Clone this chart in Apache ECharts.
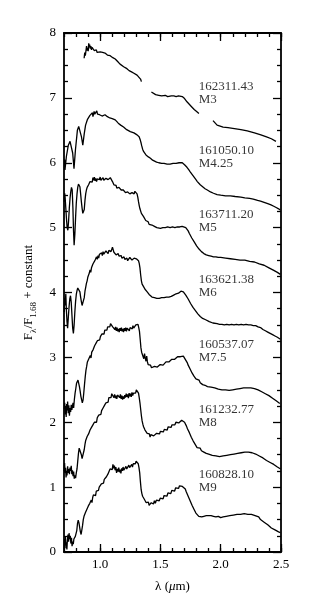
<!DOCTYPE html>
<html>
<head>
<meta charset="utf-8">
<script src="https://cdn.jsdelivr.net/npm/echarts@6/dist/echarts.min.js"></script>
<style>html,body{margin:0;padding:0;background:#fff}#c{width:319px;height:609px}</style>
</head>
<body>
<div id="c"></div>
<script>
// ---- data ----
const starIds = ['162311.43','161050.10','163711.20','163621.38','160537.07','161232.77','160828.10'];
const spTypes = ['M3','M4.25','M5','M6','M7.5','M8','M9'];
const labelX = 1.817;
const labelY = [7.08, 6.09, 5.10, 4.10, 3.10, 2.10, 1.10];
const xMajorTicks = [1.0, 1.5, 2.0, 2.5];

const m3a = [[0.867,7.61],[0.872,7.70],[0.877,7.65],[0.883,7.68],[0.887,7.80],[0.892,7.73],[0.897,7.77],[0.901,7.72],[0.905,7.84],[0.909,7.78],[0.913,7.82],[0.918,7.76],[0.923,7.80],[0.928,7.74],[0.933,7.78],[0.938,7.75],[0.944,7.77],[0.95,7.73],[0.955,7.74],[0.962,7.71],[0.968,7.74],[0.975,7.70],[0.982,7.72],[0.99,7.70],[1.0,7.71],[1.01,7.69],[1.02,7.70],[1.03,7.68],[1.04,7.69],[1.05,7.67],[1.06,7.66],[1.07,7.67],[1.083,7.65],[1.095,7.64],[1.105,7.62],[1.115,7.63],[1.125,7.60],[1.135,7.58],[1.145,7.56],[1.153,7.53],[1.165,7.52],[1.18,7.50],[1.195,7.48],[1.21,7.46],[1.222,7.45],[1.24,7.42],[1.26,7.40],[1.28,7.38],[1.295,7.36],[1.306,7.35],[1.32,7.33],[1.335,7.29],[1.342,7.25]];
const m3b = [[1.425,7.09],[1.44,7.06],[1.46,7.05],[1.486,7.04],[1.51,7.03],[1.54,7.04],[1.56,7.02],[1.59,7.03],[1.611,7.03],[1.63,7.02],[1.65,7.03],[1.681,7.02],[1.70,6.99],[1.72,6.94],[1.736,6.91],[1.76,6.86],[1.78,6.82],[1.80,6.79],[1.819,6.76]];
const m3c = [[1.936,6.65],[1.95,6.62],[1.97,6.58],[1.986,6.56],[2.02,6.55],[2.06,6.54],[2.10,6.53],[2.167,6.51],[2.22,6.49],[2.28,6.46],[2.333,6.43],[2.38,6.40],[2.42,6.37],[2.458,6.33]];
const m425 = [[0.705,6.05],[0.708,5.89],[0.72,6.10],[0.736,6.27],[0.75,6.33],[0.764,6.35],[0.772,6.15],[0.783,5.91],[0.795,6.20],[0.811,6.50],[0.822,6.56],[0.833,6.55],[0.845,6.40],[0.856,6.27],[0.868,6.45],[0.879,6.58],[0.889,6.61],[0.895,6.67],[0.90,6.64],[0.905,6.70],[0.91,6.66],[0.915,6.73],[0.92,6.71],[0.926,6.76],[0.931,6.73],[0.936,6.77],[0.94,6.71],[0.945,6.74],[0.95,6.79],[0.955,6.75],[0.96,6.73],[0.966,6.77],[0.972,6.80],[0.978,6.75],[0.985,6.73],[0.99,6.77],[0.995,6.74],[1.0,6.76],[1.005,6.71],[1.01,6.74],[1.016,6.72],[1.022,6.75],[1.03,6.73],[1.04,6.74],[1.05,6.72],[1.06,6.71],[1.07,6.70],[1.08,6.69],[1.09,6.68],[1.1,6.68],[1.11,6.67],[1.125,6.66],[1.14,6.63],[1.15,6.61],[1.16,6.60],[1.17,6.58],[1.182,6.57],[1.194,6.55],[1.21,6.52],[1.22,6.51],[1.235,6.49],[1.25,6.48],[1.265,6.47],[1.28,6.46],[1.295,6.44],[1.306,6.43],[1.315,6.42],[1.323,6.40],[1.333,6.35],[1.34,6.30],[1.345,6.26],[1.352,6.21],[1.361,6.17],[1.37,6.14],[1.38,6.12],[1.39,6.10],[1.40,6.09],[1.417,6.07],[1.435,6.04],[1.45,6.02],[1.468,6.01],[1.486,6.00],[1.51,5.99],[1.53,5.99],[1.555,5.98],[1.58,5.98],[1.605,5.99],[1.63,5.99],[1.655,6.00],[1.681,6.00],[1.69,5.99],[1.70,5.97],[1.71,5.95],[1.72,5.93],[1.736,5.89],[1.75,5.85],[1.77,5.80],[1.79,5.75],[1.806,5.71],[1.83,5.66],[1.85,5.63],[1.87,5.60],[1.889,5.58],[1.915,5.55],[1.94,5.53],[1.97,5.51],[2.0,5.50],[2.04,5.49],[2.08,5.49],[2.12,5.48],[2.167,5.47],[2.2,5.46],[2.24,5.45],[2.27,5.44],[2.306,5.42],[2.33,5.41],[2.36,5.39],[2.39,5.37],[2.417,5.35],[2.44,5.33],[2.46,5.31],[2.48,5.29],[2.494,5.27]];
const m5 = [[0.702,5.40],[0.706,5.53],[0.71,5.45],[0.715,5.30],[0.72,5.15],[0.726,5.00],[0.732,4.96],[0.738,5.10],[0.744,5.30],[0.75,5.45],[0.756,5.55],[0.762,5.62],[0.768,5.58],[0.774,5.30],[0.779,4.95],[0.784,4.73],[0.79,4.90],[0.796,5.15],[0.802,5.38],[0.808,5.52],[0.814,5.62],[0.82,5.67],[0.826,5.69],[0.832,5.63],[0.838,5.52],[0.844,5.40],[0.85,5.30],[0.856,5.22],[0.862,5.19],[0.868,5.28],[0.874,5.42],[0.88,5.52],[0.886,5.58],[0.892,5.62],[0.898,5.59],[0.904,5.66],[0.91,5.63],[0.916,5.71],[0.922,5.68],[0.928,5.74],[0.934,5.70],[0.94,5.77],[0.946,5.73],[0.952,5.78],[0.958,5.72],[0.964,5.76],[0.97,5.71],[0.976,5.75],[0.982,5.72],[0.988,5.77],[0.994,5.74],[1.0,5.78],[1.006,5.73],[1.012,5.76],[1.018,5.72],[1.024,5.77],[1.03,5.73],[1.036,5.75],[1.042,5.72],[1.048,5.76],[1.054,5.73],[1.06,5.77],[1.066,5.74],[1.072,5.76],[1.078,5.73],[1.084,5.77],[1.09,5.74],[1.096,5.75],[1.102,5.71],[1.108,5.70],[1.114,5.66],[1.12,5.67],[1.126,5.63],[1.132,5.65],[1.138,5.61],[1.144,5.63],[1.15,5.60],[1.156,5.62],[1.162,5.59],[1.168,5.61],[1.174,5.58],[1.18,5.60],[1.186,5.56],[1.192,5.58],[1.198,5.55],[1.204,5.57],[1.21,5.54],[1.216,5.56],[1.222,5.53],[1.228,5.55],[1.234,5.52],[1.24,5.55],[1.246,5.52],[1.252,5.54],[1.258,5.51],[1.264,5.54],[1.27,5.52],[1.276,5.55],[1.282,5.52],[1.288,5.56],[1.294,5.53],[1.3,5.55],[1.306,5.52],[1.312,5.47],[1.318,5.40],[1.324,5.34],[1.33,5.29],[1.336,5.26],[1.342,5.22],[1.348,5.20],[1.354,5.21],[1.36,5.17],[1.366,5.15],[1.372,5.16],[1.378,5.11],[1.384,5.12],[1.39,5.08],[1.398,5.09],[1.406,5.05],[1.414,5.06],[1.422,5.03],[1.43,5.04],[1.44,5.01],[1.45,5.02],[1.46,5.00],[1.47,5.00],[1.48,4.99],[1.5,4.99],[1.52,5.00],[1.54,5.00],[1.56,5.01],[1.58,5.00],[1.6,5.01],[1.62,5.00],[1.64,5.01],[1.66,5.01],[1.68,5.02],[1.695,5.02],[1.71,5.00],[1.72,4.97],[1.73,4.95],[1.74,4.91],[1.75,4.88],[1.76,4.84],[1.77,4.81],[1.78,4.78],[1.79,4.75],[1.8,4.72],[1.81,4.69],[1.82,4.67],[1.83,4.64],[1.84,4.63],[1.85,4.61],[1.86,4.60],[1.88,4.58],[1.9,4.57],[1.92,4.56],[1.94,4.55],[1.96,4.55],[1.98,4.54],[2.0,4.54],[2.04,4.53],[2.08,4.52],[2.12,4.51],[2.16,4.50],[2.2,4.50],[2.24,4.48],[2.28,4.47],[2.32,4.44],[2.36,4.42],[2.4,4.38],[2.44,4.34],[2.47,4.31],[2.495,4.28]];
const m6 = [[0.702,3.70],[0.706,3.92],[0.71,3.80],[0.715,3.98],[0.72,3.72],[0.725,3.55],[0.73,3.45],[0.736,3.62],[0.742,3.78],[0.748,3.90],[0.754,3.95],[0.76,3.85],[0.766,3.65],[0.772,3.45],[0.778,3.37],[0.784,3.50],[0.79,3.70],[0.796,3.86],[0.802,3.97],[0.808,4.03],[0.814,4.07],[0.82,4.09],[0.826,4.06],[0.832,4.01],[0.838,3.93],[0.844,3.86],[0.85,3.80],[0.856,3.78],[0.862,3.82],[0.868,3.92],[0.874,4.02],[0.88,4.08],[0.886,4.14],[0.892,4.18],[0.898,4.24],[0.904,4.21],[0.91,4.30],[0.916,4.35],[0.922,4.31],[0.928,4.38],[0.934,4.35],[0.94,4.44],[0.946,4.47],[0.952,4.42],[0.958,4.50],[0.964,4.47],[0.97,4.55],[0.976,4.51],[0.982,4.57],[0.988,4.53],[0.994,4.59],[1.0,4.60],[1.006,4.56],[1.012,4.61],[1.018,4.57],[1.024,4.63],[1.03,4.59],[1.036,4.62],[1.042,4.58],[1.048,4.64],[1.054,4.61],[1.06,4.63],[1.066,4.60],[1.072,4.65],[1.078,4.62],[1.084,4.67],[1.09,4.63],[1.096,4.66],[1.102,4.70],[1.108,4.67],[1.114,4.62],[1.12,4.60],[1.126,4.63],[1.132,4.58],[1.138,4.61],[1.144,4.57],[1.15,4.60],[1.156,4.56],[1.162,4.59],[1.168,4.55],[1.174,4.57],[1.18,4.53],[1.186,4.56],[1.192,4.52],[1.198,4.55],[1.204,4.51],[1.21,4.54],[1.216,4.50],[1.222,4.53],[1.228,4.49],[1.234,4.52],[1.24,4.50],[1.246,4.54],[1.252,4.51],[1.258,4.53],[1.264,4.50],[1.27,4.52],[1.276,4.50],[1.282,4.53],[1.288,4.51],[1.294,4.55],[1.3,4.52],[1.306,4.54],[1.312,4.51],[1.318,4.49],[1.324,4.45],[1.33,4.38],[1.336,4.27],[1.342,4.18],[1.348,4.13],[1.354,4.11],[1.36,4.09],[1.366,4.07],[1.372,4.05],[1.378,4.06],[1.384,4.02],[1.39,4.01],[1.398,3.98],[1.406,3.97],[1.414,3.95],[1.422,3.96],[1.43,3.93],[1.44,3.94],[1.45,3.92],[1.46,3.93],[1.47,3.91],[1.48,3.92],[1.49,3.91],[1.5,3.93],[1.51,3.92],[1.52,3.93],[1.53,3.92],[1.54,3.94],[1.55,3.93],[1.56,3.94],[1.57,3.93],[1.58,3.95],[1.59,3.94],[1.6,3.96],[1.61,3.96],[1.62,3.97],[1.63,3.98],[1.64,4.00],[1.65,3.99],[1.66,4.01],[1.67,4.02],[1.68,4.02],[1.69,4.01],[1.7,3.99],[1.71,3.96],[1.72,3.93],[1.73,3.90],[1.74,3.87],[1.75,3.83],[1.76,3.80],[1.77,3.77],[1.78,3.75],[1.79,3.72],[1.8,3.70],[1.81,3.67],[1.82,3.66],[1.83,3.63],[1.84,3.63],[1.85,3.60],[1.86,3.61],[1.875,3.58],[1.89,3.57],[1.905,3.55],[1.92,3.55],[1.935,3.53],[1.95,3.53],[1.97,3.52],[1.99,3.51],[2.01,3.51],[2.03,3.50],[2.05,3.51],[2.07,3.50],[2.09,3.51],[2.11,3.50],[2.13,3.51],[2.15,3.50],[2.17,3.51],[2.19,3.50],[2.21,3.51],[2.23,3.50],[2.25,3.50],[2.27,3.49],[2.29,3.49],[2.31,3.47],[2.33,3.46],[2.35,3.43],[2.37,3.41],[2.39,3.39],[2.41,3.37],[2.43,3.35],[2.45,3.33],[2.47,3.31],[2.495,3.28]];
const m75 = [[0.702,2.20],[0.706,2.30],[0.71,2.12],[0.714,2.24],[0.718,2.08],[0.722,2.28],[0.726,2.18],[0.73,2.32],[0.735,2.14],[0.74,2.26],[0.745,2.10],[0.75,2.22],[0.755,2.16],[0.76,2.27],[0.765,2.19],[0.77,2.25],[0.775,2.30],[0.78,2.22],[0.786,2.35],[0.792,2.45],[0.798,2.52],[0.804,2.60],[0.81,2.57],[0.816,2.65],[0.822,2.62],[0.828,2.55],[0.834,2.48],[0.84,2.40],[0.846,2.35],[0.852,2.30],[0.858,2.34],[0.864,2.45],[0.87,2.58],[0.876,2.70],[0.882,2.80],[0.888,2.86],[0.894,2.93],[0.9,2.90],[0.906,2.98],[0.912,2.95],[0.918,3.03],[0.924,2.99],[0.93,3.08],[0.936,3.05],[0.942,3.12],[0.948,3.09],[0.954,3.18],[0.96,3.15],[0.966,3.22],[0.972,3.19],[0.978,3.26],[0.984,3.23],[0.99,3.29],[0.996,3.27],[1.002,3.32],[1.008,3.30],[1.014,3.36],[1.02,3.33],[1.026,3.39],[1.032,3.36],[1.038,3.42],[1.044,3.40],[1.05,3.45],[1.056,3.42],[1.062,3.47],[1.068,3.44],[1.074,3.50],[1.08,3.47],[1.086,3.52],[1.092,3.49],[1.098,3.53],[1.104,3.47],[1.11,3.44],[1.116,3.48],[1.122,3.43],[1.128,3.47],[1.134,3.41],[1.14,3.46],[1.146,3.40],[1.152,3.44],[1.158,3.39],[1.164,3.45],[1.17,3.41],[1.176,3.46],[1.182,3.40],[1.188,3.44],[1.194,3.39],[1.2,3.45],[1.206,3.41],[1.212,3.46],[1.218,3.40],[1.224,3.45],[1.23,3.42],[1.236,3.47],[1.242,3.41],[1.248,3.46],[1.254,3.43],[1.26,3.48],[1.266,3.44],[1.272,3.49],[1.278,3.45],[1.284,3.48],[1.29,3.46],[1.296,3.50],[1.302,3.52],[1.308,3.49],[1.314,3.51],[1.32,3.46],[1.326,3.40],[1.332,3.28],[1.338,3.15],[1.344,3.08],[1.35,3.05],[1.356,3.10],[1.362,2.98],[1.368,3.06],[1.374,2.99],[1.38,2.94],[1.386,3.02],[1.392,2.93],[1.398,2.89],[1.404,2.91],[1.41,2.86],[1.418,2.88],[1.426,2.84],[1.434,2.87],[1.442,2.83],[1.45,2.86],[1.458,2.84],[1.466,2.87],[1.474,2.85],[1.482,2.88],[1.49,2.86],[1.498,2.89],[1.506,2.87],[1.514,2.90],[1.522,2.88],[1.53,2.91],[1.538,2.90],[1.546,2.93],[1.554,2.91],[1.562,2.94],[1.57,2.93],[1.578,2.96],[1.586,2.94],[1.594,2.97],[1.602,2.96],[1.61,2.99],[1.618,2.97],[1.626,3.00],[1.634,2.99],[1.642,3.01],[1.65,3.00],[1.658,3.02],[1.666,3.01],[1.674,3.03],[1.682,3.01],[1.69,3.02],[1.698,2.99],[1.706,2.97],[1.714,2.94],[1.722,2.92],[1.73,2.88],[1.738,2.86],[1.746,2.82],[1.754,2.80],[1.762,2.76],[1.77,2.75],[1.778,2.71],[1.786,2.70],[1.794,2.67],[1.802,2.68],[1.81,2.64],[1.82,2.65],[1.83,2.61],[1.84,2.62],[1.85,2.58],[1.86,2.60],[1.87,2.57],[1.88,2.58],[1.89,2.55],[1.905,2.57],[1.92,2.54],[1.935,2.56],[1.95,2.53],[1.965,2.54],[1.98,2.51],[1.995,2.53],[2.01,2.50],[2.025,2.52],[2.04,2.50],[2.055,2.51],[2.07,2.49],[2.085,2.51],[2.1,2.50],[2.115,2.52],[2.13,2.51],[2.145,2.53],[2.16,2.52],[2.175,2.54],[2.19,2.53],[2.205,2.55],[2.22,2.53],[2.235,2.55],[2.25,2.53],[2.265,2.54],[2.28,2.52],[2.295,2.53],[2.31,2.50],[2.325,2.50],[2.34,2.47],[2.355,2.47],[2.37,2.44],[2.385,2.44],[2.4,2.41],[2.415,2.40],[2.43,2.37],[2.445,2.36],[2.46,2.33],[2.475,2.32],[2.49,2.29]];
const m8 = [[0.702,1.25],[0.705,1.37],[0.709,1.22],[0.713,1.30],[0.717,1.15],[0.721,1.24],[0.725,1.18],[0.73,1.32],[0.735,1.22],[0.74,1.28],[0.745,1.20],[0.75,1.30],[0.755,1.25],[0.76,1.33],[0.765,1.20],[0.77,1.26],[0.775,1.17],[0.78,1.24],[0.785,1.13],[0.79,1.18],[0.796,1.14],[0.802,1.22],[0.808,1.28],[0.814,1.40],[0.82,1.52],[0.826,1.60],[0.832,1.62],[0.838,1.58],[0.844,1.50],[0.85,1.44],[0.856,1.41],[0.862,1.46],[0.868,1.58],[0.874,1.66],[0.88,1.72],[0.886,1.70],[0.892,1.78],[0.898,1.75],[0.904,1.82],[0.91,1.80],[0.916,1.88],[0.922,1.85],[0.928,1.92],[0.934,1.89],[0.94,1.96],[0.946,1.93],[0.952,2.00],[0.958,1.97],[0.964,2.03],[0.97,2.00],[0.976,2.07],[0.982,2.05],[0.988,2.11],[0.994,2.09],[1.0,2.14],[1.006,2.12],[1.012,2.18],[1.018,2.15],[1.024,2.22],[1.03,2.20],[1.036,2.26],[1.042,2.23],[1.048,2.30],[1.054,2.27],[1.06,2.33],[1.066,2.31],[1.072,2.38],[1.078,2.35],[1.084,2.41],[1.09,2.38],[1.096,2.44],[1.102,2.47],[1.108,2.42],[1.114,2.38],[1.12,2.43],[1.126,2.37],[1.132,2.41],[1.138,2.36],[1.144,2.42],[1.15,2.39],[1.156,2.45],[1.162,2.38],[1.168,2.43],[1.174,2.36],[1.18,2.41],[1.186,2.35],[1.192,2.40],[1.198,2.36],[1.204,2.42],[1.21,2.38],[1.216,2.44],[1.222,2.39],[1.228,2.43],[1.234,2.37],[1.24,2.45],[1.246,2.40],[1.252,2.44],[1.258,2.39],[1.264,2.46],[1.27,2.41],[1.276,2.45],[1.282,2.42],[1.288,2.48],[1.294,2.45],[1.3,2.50],[1.306,2.53],[1.312,2.48],[1.318,2.45],[1.324,2.38],[1.33,2.30],[1.336,2.20],[1.342,2.10],[1.348,2.02],[1.354,1.97],[1.36,1.93],[1.366,1.95],[1.372,1.88],[1.378,1.86],[1.384,1.90],[1.39,1.83],[1.396,1.86],[1.402,1.80],[1.408,1.82],[1.414,1.77],[1.42,1.81],[1.428,1.78],[1.436,1.83],[1.444,1.79],[1.452,1.82],[1.46,1.78],[1.468,1.83],[1.476,1.80],[1.484,1.85],[1.492,1.82],[1.5,1.86],[1.508,1.83],[1.516,1.88],[1.524,1.85],[1.532,1.89],[1.54,1.87],[1.548,1.91],[1.556,1.88],[1.564,1.93],[1.572,1.90],[1.58,1.94],[1.588,1.92],[1.596,1.96],[1.604,1.94],[1.612,1.98],[1.62,1.96],[1.628,2.00],[1.636,1.98],[1.644,2.01],[1.652,1.99],[1.66,2.02],[1.668,2.00],[1.676,2.03],[1.684,2.02],[1.692,2.03],[1.7,2.00],[1.708,1.97],[1.716,1.94],[1.724,1.90],[1.732,1.88],[1.74,1.84],[1.748,1.82],[1.756,1.77],[1.764,1.75],[1.772,1.71],[1.78,1.70],[1.788,1.66],[1.796,1.65],[1.804,1.61],[1.812,1.62],[1.82,1.58],[1.83,1.60],[1.84,1.56],[1.85,1.58],[1.86,1.54],[1.87,1.56],[1.88,1.52],[1.89,1.54],[1.9,1.51],[1.915,1.53],[1.93,1.49],[1.945,1.51],[1.96,1.48],[1.975,1.50],[1.99,1.47],[2.005,1.50],[2.02,1.48],[2.035,1.51],[2.05,1.49],[2.065,1.52],[2.08,1.50],[2.095,1.53],[2.11,1.51],[2.125,1.54],[2.14,1.52],[2.155,1.55],[2.17,1.53],[2.185,1.56],[2.2,1.54],[2.215,1.56],[2.23,1.54],[2.245,1.55],[2.26,1.53],[2.275,1.54],[2.29,1.51],[2.305,1.52],[2.32,1.48],[2.335,1.48],[2.35,1.45],[2.365,1.45],[2.38,1.41],[2.395,1.41],[2.41,1.38],[2.425,1.37],[2.44,1.35],[2.455,1.34],[2.47,1.31],[2.485,1.31],[2.497,1.28]];
const m9 = [[0.702,0.05],[0.705,0.20],[0.708,0.10],[0.712,0.24],[0.716,0.06],[0.72,0.15],[0.724,0.04],[0.728,0.18],[0.733,0.27],[0.738,0.16],[0.742,0.29],[0.747,0.20],[0.752,0.25],[0.757,0.13],[0.762,0.22],[0.767,0.09],[0.772,0.16],[0.777,0.12],[0.782,0.20],[0.788,0.17],[0.794,0.24],[0.8,0.21],[0.806,0.33],[0.812,0.44],[0.818,0.49],[0.824,0.45],[0.83,0.38],[0.836,0.31],[0.842,0.27],[0.848,0.30],[0.854,0.41],[0.86,0.50],[0.866,0.55],[0.872,0.52],[0.878,0.61],[0.884,0.58],[0.89,0.66],[0.896,0.63],[0.902,0.71],[0.908,0.69],[0.914,0.75],[0.92,0.72],[0.926,0.80],[0.932,0.76],[0.938,0.84],[0.944,0.88],[0.95,0.85],[0.956,0.90],[0.962,0.87],[0.968,0.94],[0.974,0.92],[0.98,0.97],[0.986,0.95],[0.992,1.00],[0.998,1.03],[1.004,0.99],[1.01,1.05],[1.016,1.03],[1.022,1.08],[1.028,1.06],[1.034,1.12],[1.04,1.14],[1.046,1.10],[1.052,1.16],[1.058,1.13],[1.064,1.20],[1.07,1.23],[1.076,1.19],[1.082,1.28],[1.088,1.25],[1.094,1.31],[1.1,1.27],[1.106,1.35],[1.112,1.29],[1.118,1.33],[1.124,1.26],[1.13,1.31],[1.136,1.22],[1.142,1.28],[1.148,1.24],[1.154,1.30],[1.16,1.23],[1.166,1.27],[1.172,1.21],[1.178,1.29],[1.184,1.25],[1.19,1.31],[1.196,1.26],[1.202,1.29],[1.208,1.25],[1.214,1.32],[1.22,1.28],[1.226,1.30],[1.232,1.27],[1.238,1.34],[1.244,1.30],[1.25,1.33],[1.256,1.29],[1.262,1.35],[1.268,1.31],[1.274,1.36],[1.28,1.33],[1.286,1.38],[1.292,1.36],[1.298,1.40],[1.304,1.43],[1.31,1.39],[1.316,1.36],[1.322,1.30],[1.328,1.22],[1.334,1.08],[1.34,0.96],[1.346,0.90],[1.352,0.86],[1.358,0.89],[1.364,0.82],[1.37,0.80],[1.376,0.84],[1.382,0.76],[1.388,0.79],[1.394,0.73],[1.4,0.77],[1.406,0.72],[1.412,0.75],[1.418,0.71],[1.424,0.76],[1.43,0.73],[1.436,0.77],[1.442,0.74],[1.45,0.79],[1.458,0.75],[1.466,0.80],[1.474,0.77],[1.482,0.82],[1.49,0.79],[1.498,0.83],[1.506,0.80],[1.514,0.85],[1.522,0.82],[1.53,0.87],[1.538,0.84],[1.546,0.89],[1.554,0.86],[1.562,0.91],[1.57,0.88],[1.578,0.93],[1.586,0.90],[1.594,0.95],[1.602,0.92],[1.61,0.97],[1.618,0.94],[1.626,0.99],[1.634,0.96],[1.642,1.00],[1.65,0.98],[1.658,1.02],[1.666,0.99],[1.674,1.03],[1.682,1.01],[1.69,1.02],[1.698,0.99],[1.706,0.97],[1.714,0.93],[1.722,0.91],[1.73,0.86],[1.738,0.84],[1.746,0.79],[1.754,0.77],[1.762,0.72],[1.77,0.70],[1.778,0.66],[1.786,0.65],[1.794,0.60],[1.802,0.62],[1.81,0.57],[1.818,0.55],[1.826,0.58],[1.834,0.52],[1.842,0.54],[1.85,0.51],[1.86,0.55],[1.87,0.53],[1.88,0.56],[1.89,0.54],[1.9,0.56],[1.91,0.54],[1.92,0.56],[1.93,0.53],[1.94,0.55],[1.95,0.52],[1.96,0.54],[1.97,0.52],[1.98,0.55],[1.99,0.52],[2.0,0.53],[2.01,0.51],[2.02,0.54],[2.03,0.52],[2.045,0.55],[2.06,0.53],[2.075,0.56],[2.09,0.54],[2.105,0.57],[2.12,0.55],[2.135,0.58],[2.15,0.56],[2.165,0.58],[2.18,0.57],[2.195,0.59],[2.21,0.57],[2.225,0.58],[2.24,0.56],[2.255,0.58],[2.27,0.55],[2.285,0.56],[2.3,0.53],[2.315,0.54],[2.33,0.50],[2.345,0.49],[2.36,0.46],[2.375,0.45],[2.39,0.42],[2.405,0.41],[2.42,0.37],[2.435,0.38],[2.45,0.34],[2.465,0.35],[2.48,0.31],[2.495,0.30]];

const spectra = [m3a, m3b, m3c, m425, m5, m6, m75, m8, m9];

// ---- chart ----
const FONT = '"Liberation Serif", "DejaVu Serif", serif';
const chart = echarts.init(document.getElementById('c'), null, {renderer: 'canvas'});
const axisLineStyle = {color: '#000', width: 1.8};

function xAxisBase(pos) {
  return {
    type: 'value', position: pos, min: 0.7, max: 2.5, interval: 0.1,
    axisLine: {show: true, onZero: false, lineStyle: axisLineStyle},
    axisTick: {show: true, inside: true, length: 4, lineStyle: {color: '#000', width: 1.3}},
    axisLabel: {show: false},
    splitLine: {show: false}
  };
}
function xAxisMajor(pos, withLabels) {
  return {
    type: 'value', position: pos, min: 0.7, max: 2.5, interval: 0.1,
    axisLine: {show: false, onZero: false},
    axisTick: {show: true, inside: true, length: 8, customValues: xMajorTicks, lineStyle: {color: '#000', width: 1.3}},
    axisLabel: {show: withLabels, customValues: xMajorTicks, margin: 6, color: '#000', fontFamily: FONT, fontSize: 13,
      formatter: v => v.toFixed(1)},
    splitLine: {show: false},
    name: withLabels ? '{n|λ (}{i|μ}{n|m)}' : '',
    nameLocation: 'middle', nameGap: 28,
    nameTextStyle: {rich: {n: {fontFamily: FONT, fontSize: 13, color: '#000'}, i: {fontFamily: FONT, fontSize: 13, fontStyle: 'italic', color: '#000'}}}
  };
}
function yAxisDef(pos, withLabels) {
  return {
    type: 'value', position: pos, min: 0, max: 8, interval: 1,
    axisLine: {show: true, onZero: false, lineStyle: axisLineStyle},
    axisTick: {show: true, inside: true, length: 8, lineStyle: {color: '#000', width: 1.3}},
    minorTick: {show: true, splitNumber: 4, length: 4, lineStyle: {color: '#000', width: 1.3}},
    axisLabel: {show: withLabels, margin: 8, color: '#000', fontFamily: FONT, fontSize: 13},
    splitLine: {show: false},
    minorSplitLine: {show: false},
    name: withLabels ? 'F{s|λ}/F{s|1.68} + constant' : '',
    nameLocation: 'middle', nameGap: 26, nameRotate: 90,
    nameTextStyle: {fontFamily: FONT, fontSize: 13, color: '#000', lineHeight: 18,
      rich: {s: {fontFamily: FONT, fontSize: 9, color: '#000', verticalAlign: 'bottom', lineHeight: 18}}}
  };
}

const series = spectra.map(d => ({
  type: 'line', data: d, xAxisIndex: 0, yAxisIndex: 0,
  showSymbol: false, symbol: 'none', silent: true, animation: false,
  lineStyle: {color: '#000', width: 1.3}
}));
series.push({
  type: 'scatter', xAxisIndex: 0, yAxisIndex: 0, symbolSize: 0, silent: true, animation: false,
  data: labelY.map((y, i) => ({value: [labelX, y], name: starIds[i] + '\n' + spTypes[i]})),
  label: {show: true, position: 'right', distance: 0, align: 'left', verticalAlign: 'middle',
    formatter: p => p.name, fontFamily: FONT, fontSize: 13, lineHeight: 13, color: '#000'}
});

chart.setOption({
  animation: false,
  backgroundColor: '#fff',
  grid: {left: 64, right: 38, top: 33, bottom: 57, containLabel: false},
  xAxis: [xAxisBase('bottom'), xAxisBase('top'), xAxisMajor('bottom', true), xAxisMajor('top', false)],
  yAxis: [yAxisDef('left', true), yAxisDef('right', false)],
  series: series
});
</script>
</body>
</html>
